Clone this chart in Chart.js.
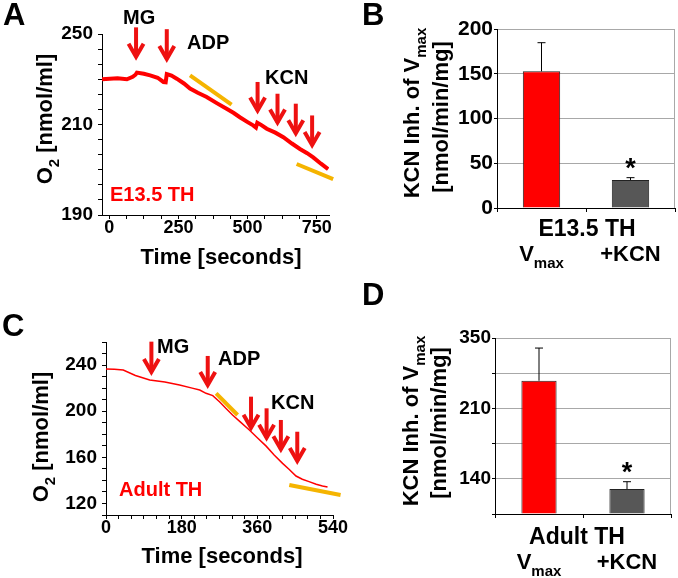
<!DOCTYPE html>
<html>
<head>
<meta charset="utf-8">
<script src="https://cdn.jsdelivr.net/npm/chart.js@4"></script>
<style>
  body { margin: 0; background: #fff; }
  #fig { position: relative; width: 678px; height: 578px; overflow: hidden; }
  .panel { position: absolute; }
</style>
</head>
<body>
<div id="fig">
  <div class="panel" style="left:0;top:0;width:350px;height:290px"><canvas id="chartA"></canvas></div>
  <div class="panel" style="left:355px;top:0;width:323px;height:280px"><canvas id="chartB"></canvas></div>
  <div class="panel" style="left:0;top:290px;width:360px;height:288px"><canvas id="chartC"></canvas></div>
  <div class="panel" style="left:355px;top:280px;width:323px;height:298px"><canvas id="chartD"></canvas></div>
</div>
<script>
// ---- panel A: E13.5 TH oxygen trace (time s, O2 in axis units) ----
const aTime = [-26, 30, 64, 85, 95, 100, 125, 148, 175, 196, 204, 208, 212, 225, 244, 270, 292, 320, 352, 390, 424, 450, 472, 500, 520, 530, 535, 550, 569, 600, 629, 660, 689, 715, 737, 765, 791];
const aO2 = [235, 235.3, 235, 235.8, 236.5, 237.2, 236.8, 236.3, 235.5, 234.1, 234, 236.7, 236.6, 236.2, 235.2, 233.6, 231.9, 230.5, 229.1, 227, 225.2, 223.8, 222.4, 220.8, 219.7, 219, 220.6, 219.8, 218.6, 217.3, 215.8, 213.7, 211.9, 210.5, 209.1, 207, 205.2];
const aFitT1 = [292, 442], aFitO1 = [236.3, 226.6];
const aFitT2 = [677, 809], aFitO2 = [206.9, 201.9];
const aArrowTime = [97, 208, 536, 608, 674, 733];
const aArrowTop = [252.2, 251.6, 234.1, 230.2, 226.9, 223];
const aArrowTip = [241.1, 240.4, 223.3, 219.3, 215.8, 211.9];
const aXLabels = [0, 250, 500, 750];
const aYTickAt = [190, 220, 250];
const aYTickText = ['190', '210', '250'];

// ---- panel C: adult TH oxygen trace ----
const cTime = [0, 20, 41, 70, 104, 140, 175, 205, 223, 238, 254, 270, 285, 301, 320, 341, 360, 381, 400, 420, 436, 452, 467, 483, 500, 515, 527];
const cO2 = [236.6, 236.3, 235.7, 231, 227, 225.3, 222.7, 220, 218.4, 215.5, 213.5, 208.2, 202.5, 196.7, 190.5, 183.7, 177, 169.7, 162, 154.8, 149.5, 143.8, 141, 138.9, 136.6, 135.2, 134.3];
const cFitT1 = [262, 313], cFitO1 = [215.5, 196.7];
const cFitT2 = [436, 558], cFitO2 = [136, 127.3];
const cArrowTime = [108, 242, 345, 382, 416, 455];
const cArrowTop = [260.3, 247.9, 212.6, 202.5, 192.4, 182.2];
const cArrowTip = [230.5, 219.2, 182.2, 173.6, 163.5, 153.4];
const cXLabels = [0, 180, 360, 540];
const cYLabels = [120, 160, 200, 240];

// ---- panels B and D: bar charts ----
const barCats = ['V_{max}', '+KCN'];
const bValues = [152.7, 31.3];
const bErrTop = [184.7, 33.9];
const dValues = [265, 49.7];
const dErrTop = [330, 64.2];
const dYTickAt = [70, 210, 350];
const dYTickText = ['140', '210', '350'];
const starred = [false, true];

const FONT = "'Liberation Sans', Arial, Helvetica, sans-serif";
const RED = '#ff0000';
const ARROW_RED = '#ee1111';
const ORANGE = '#f5b400';
const BAR_GRAY = '#575757';
const GRID = '#a8a8a8';

Chart.defaults.font.family = FONT;
Chart.defaults.font.weight = 'bold';
Chart.defaults.color = '#000';

const pts = (xs, ys) => xs.map((x, i) => ({ x: x, y: ys[i] }));

function richParts(str, size) {
  const parts = [];
  const re = /_\{([^}]*)\}/g;
  let last = 0, m;
  while ((m = re.exec(str))) {
    if (m.index > last) parts.push({ text: str.slice(last, m.index), size: size, dy: 0 });
    parts.push({ text: m[1], size: Math.round(size * 0.68), dy: size * 0.4 });
    last = re.lastIndex;
  }
  if (last < str.length) parts.push({ text: str.slice(last), size: size, dy: 0 });
  return parts;
}

function drawText(ctx, item, offX, offY) {
  const size = item.size || 20;
  const parts = richParts(item.text, size);
  ctx.save();
  ctx.translate(item.x - offX, item.y - offY);
  if (item.rotate) ctx.rotate(-Math.PI / 2);
  ctx.fillStyle = item.color || '#000';
  ctx.textBaseline = 'middle';
  ctx.textAlign = 'left';
  const widths = parts.map(p => { ctx.font = 'bold ' + p.size + 'px ' + FONT; return ctx.measureText(p.text).width; });
  const total = widths.reduce((a, b) => a + b, 0);
  let x = item.align === 'left' ? 0 : -total / 2;
  parts.forEach((p, i) => {
    ctx.font = 'bold ' + p.size + 'px ' + FONT;
    ctx.fillText(p.text, x, p.dy);
    x += widths[i];
  });
  ctx.restore();
}

function drawArrow(ctx, x, y0, y1) {
  ctx.save();
  ctx.strokeStyle = ARROW_RED;
  ctx.lineWidth = 4;
  ctx.lineJoin = 'miter';
  ctx.beginPath();
  ctx.moveTo(x, y0);
  ctx.lineTo(x, y1 - 4);
  ctx.stroke();
  ctx.beginPath();
  ctx.moveTo(x - 7.5, y1 - 17);
  ctx.lineTo(x, y1 - 4);
  ctx.lineTo(x + 7.5, y1 - 17);
  ctx.stroke();
  ctx.restore();
}

// one plugin per chart: arrows, error bars, frame, texts
function decor(cfg) {
  return {
    id: 'decor',
    afterDatasetsDraw(chart) {
      const ctx = chart.ctx;
      const xs = chart.scales.x, ys = chart.scales.y;
      if (cfg.arrows) {
        cfg.arrows.time.forEach((t, i) => {
          drawArrow(ctx, xs.getPixelForValue(t), ys.getPixelForValue(cfg.arrows.top[i]), ys.getPixelForValue(cfg.arrows.tip[i]));
        });
      }
      if (cfg.errors) {
        const meta = chart.getDatasetMeta(0);
        ctx.save();
        ctx.strokeStyle = '#000';
        ctx.lineWidth = 1;
        meta.data.forEach((bar, i) => {
          const yTop = ys.getPixelForValue(cfg.errors[i]);
          ctx.beginPath();
          ctx.moveTo(bar.x, bar.y);
          ctx.lineTo(bar.x, yTop);
          ctx.moveTo(bar.x - 4, yTop);
          ctx.lineTo(bar.x + 4, yTop);
          ctx.stroke();
          if (cfg.stars && cfg.stars[i]) {
            ctx.fillStyle = '#000';
            ctx.font = 'bold 27px ' + FONT;
            ctx.textAlign = 'center';
            ctx.textBaseline = 'alphabetic';
            ctx.fillText('*', bar.x, yTop - 1);
          }
        });
        ctx.restore();
      }
      if (cfg.frame) {
        const a = chart.chartArea;
        ctx.save();
        ctx.strokeStyle = GRID;
        ctx.lineWidth = 1;
        ctx.beginPath();
        ctx.moveTo(a.right - 0.5, a.top);
        ctx.lineTo(a.right - 0.5, a.bottom);
        ctx.stroke();
        ctx.restore();
      }
    },
    afterDraw(chart) {
      const ctx = chart.ctx;
      (cfg.texts || []).forEach(t => drawText(ctx, t, cfg.offX, cfg.offY));
      if (cfg.catLabels) {
        const xs = chart.scales.x;
        cfg.catLabels.forEach((lab, i) => {
          drawText(ctx, { text: lab, x: xs.getPixelForValue(i) + cfg.offX, y: cfg.catY, size: 22 }, cfg.offX, cfg.offY);
        });
      }
    }
  };
}

function traceScales(o) {
  return {
    x: {
      type: 'linear', min: o.xMin, max: o.xMax,
      afterBuildTicks: s => { if (o.xTicks) s.ticks = o.xTicks.map(v => ({ value: v })); },
      afterFit: s => { s.height = 30; },
      ticks: { stepSize: o.xStep, autoSkip: false, maxRotation: 0, padding: 0, font: { size: 18, lineHeight: 1 },
        callback: v => o.xLabels.includes(v) ? String(v) : '' },
      grid: { drawOnChartArea: false, tickLength: 4, color: '#000' },
      border: { color: '#000', width: 1 }
    },
    y: {
      min: o.yMin, max: o.yMax,
      afterFit: s => { s.width = o.yWidth; },
      ticks: { stepSize: o.yStep, autoSkip: false, padding: 5, font: { size: 19, lineHeight: 1 }, callback: o.yLabel },
      grid: { drawOnChartArea: false, tickLength: 4, color: '#000' },
      border: { color: '#000', width: 1 }
    }
  };
}

const lineCommon = { pointRadius: 0, tension: 0, fill: false };
const baseOpts = { responsive: true, maintainAspectRatio: false, animation: false,
  plugins: { legend: { display: false }, tooltip: { enabled: false } } };

// ---- A ----
const aMinor = [];
for (let v = 0; v <= 750; v += 62.5) aMinor.push(v);
new Chart(document.getElementById('chartA'), {
  type: 'line',
  data: { datasets: [
    Object.assign({ data: pts(aTime, aO2), borderColor: RED, borderWidth: 4 }, lineCommon),
    Object.assign({ data: pts(aFitT1, aFitO1), borderColor: ORANGE, borderWidth: 4, clip: false }, lineCommon),
    Object.assign({ data: pts(aFitT2, aFitO2), borderColor: ORANGE, borderWidth: 4, clip: false }, lineCommon)
  ] },
  options: Object.assign({}, baseOpts, {
    layout: { padding: { left: 0, top: 34, right: 21, bottom: 45 } },
    scales: traceScales({ xMin: -26, xMax: 794, xTicks: aMinor, xLabels: aXLabels, yMin: 190, yMax: 250, yStep: 5, yWidth: 102,
      yLabel: v => { const i = aYTickAt.indexOf(v); return i >= 0 ? aYTickText[i] : ''; } })
  }),
  plugins: [decor({ offX: 0, offY: 0,
    arrows: { time: aArrowTime, top: aArrowTop, tip: aArrowTip },
    texts: [
      { text: 'A', x: 3, y: 16, size: 31, align: 'left' },
      { text: 'MG', x: 123, y: 18, size: 20, align: 'left' },
      { text: 'ADP', x: 187, y: 43, size: 20, align: 'left' },
      { text: 'KCN', x: 265, y: 78, size: 20, align: 'left' },
      { text: 'E13.5 TH', x: 110, y: 195, size: 20, align: 'left', color: RED },
      { text: 'Time [seconds]', x: 221, y: 258, size: 22 },
      { text: 'O_{2} [nmol/ml]', x: 46, y: 119, size: 22, rotate: true }
    ] })]
});

// ---- C ----
new Chart(document.getElementById('chartC'), {
  type: 'line',
  data: { datasets: [
    Object.assign({ data: pts(cTime, cO2), borderColor: RED, borderWidth: 1.5 }, lineCommon),
    Object.assign({ data: pts(cFitT1, cFitO1), borderColor: ORANGE, borderWidth: 4, clip: false }, lineCommon),
    Object.assign({ data: pts(cFitT2, cFitO2), borderColor: ORANGE, borderWidth: 4, clip: false }, lineCommon)
  ] },
  options: Object.assign({}, baseOpts, {
    layout: { padding: { left: 0, top: 52, right: 27, bottom: 33 } },
    scales: traceScales({ xMin: 0, xMax: 540, xStep: 30, xLabels: cXLabels, yMin: 110, yMax: 260, yStep: 10, yWidth: 106,
      yLabel: v => cYLabels.includes(v) ? String(v) : '' })
  }),
  plugins: [decor({ offX: 0, offY: 290,
    arrows: { time: cArrowTime, top: cArrowTop, tip: cArrowTip },
    texts: [
      { text: 'C', x: 2, y: 327, size: 31, align: 'left' },
      { text: 'MG', x: 157, y: 347, size: 20, align: 'left' },
      { text: 'ADP', x: 218, y: 359, size: 20, align: 'left' },
      { text: 'KCN', x: 271, y: 403, size: 20, align: 'left' },
      { text: 'Adult TH', x: 119, y: 490, size: 20, align: 'left', color: RED },
      { text: 'Time [seconds]', x: 222, y: 557, size: 22 },
      { text: 'O_{2} [nmol/ml]', x: 42, y: 437, size: 22, rotate: true }
    ] })]
});

function barScales(o) {
  return {
    x: {
      afterFit: s => { s.height = 30; },
      ticks: { callback: () => '' },
      grid: { offset: true, drawOnChartArea: false, tickLength: 4, color: '#000' },
      border: { color: '#000', width: 1 }
    },
    y: {
      min: 0, max: o.yMax,
      afterFit: s => { s.width = o.yWidth; },
      ticks: { stepSize: o.yStep, autoSkip: false, padding: 1, font: { size: o.tickSize, lineHeight: 1 }, callback: o.yLabel },
      grid: { color: c => (c.tick && c.tick.value === 0) ? 'rgba(0,0,0,0)' : GRID, tickColor: '#000', tickLength: 3 },
      border: { color: '#000', width: 1 }
    }
  };
}

// ---- B ----
new Chart(document.getElementById('chartB'), {
  type: 'bar',
  data: { labels: barCats, datasets: [{ data: bValues, backgroundColor: [RED, BAR_GRAY], borderColor: '#222', borderWidth: 1,
    barPercentage: 0.42, categoryPercentage: 1 }] },
  options: Object.assign({}, baseOpts, {
    layout: { padding: { left: 0, top: 29, right: 3, bottom: 42 } },
    scales: barScales({ yMax: 200, yStep: 50, yWidth: 142, tickSize: 21, yLabel: v => String(v) })
  }),
  plugins: [decor({ offX: 355, offY: 0, errors: bErrTop, stars: starred, frame: true,
    catLabels: barCats, catY: 255,
    texts: [
      { text: 'B', x: 362, y: 16, size: 31, align: 'left' },
      { text: 'KCN Inh. of V_{max}', x: 413, y: 113, size: 22, rotate: true },
      { text: '[nmol/min/mg]', x: 442, y: 117, size: 22, rotate: true },
      { text: 'E13.5 TH', x: 587, y: 230, size: 23 }
    ] })]
});

// ---- D ----
new Chart(document.getElementById('chartD'), {
  type: 'bar',
  data: { labels: barCats, datasets: [{ data: dValues, backgroundColor: [RED, BAR_GRAY], borderColor: '#222', borderWidth: 1,
    barPercentage: 0.4, categoryPercentage: 1 }] },
  options: Object.assign({}, baseOpts, {
    layout: { padding: { left: 0, top: 58, right: 7, bottom: 34 } },
    scales: barScales({ yMax: 350, yStep: 70, yWidth: 140, tickSize: 19,
      yLabel: v => { const i = dYTickAt.indexOf(v); return i >= 0 ? dYTickText[i] : ''; } })
  }),
  plugins: [decor({ offX: 355, offY: 280, errors: dErrTop, stars: starred, frame: true,
    catLabels: barCats, catY: 563,
    texts: [
      { text: 'D', x: 362, y: 296, size: 31, align: 'left' },
      { text: 'KCN Inh. of V_{max}', x: 412, y: 421, size: 22, rotate: true },
      { text: '[nmol/min/mg]', x: 440, y: 423, size: 22, rotate: true },
      { text: 'Adult TH', x: 577, y: 538, size: 23 }
    ] })]
});
</script>
</body>
</html>
